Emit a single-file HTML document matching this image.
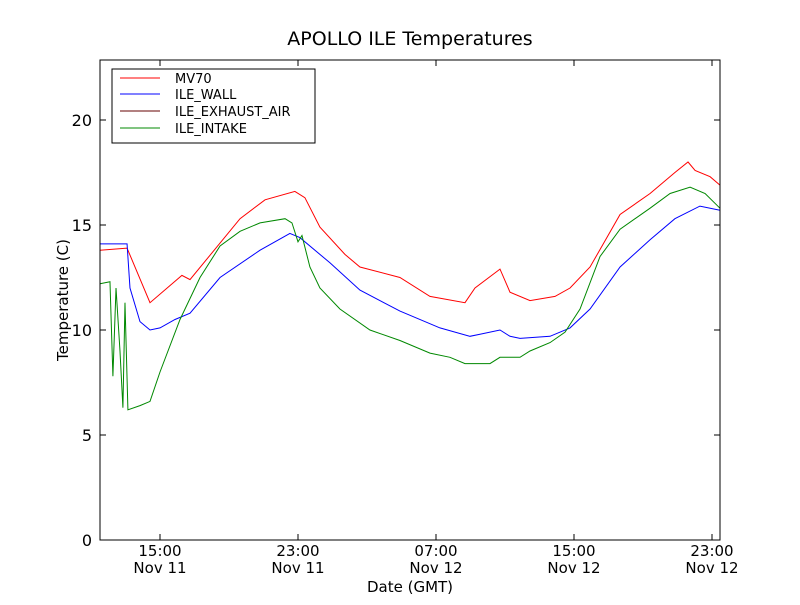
<!DOCTYPE html>
<html><head><meta charset="utf-8"><style>
body{margin:0;background:#fff;}
svg text{font-family:"DejaVu Sans","Liberation Sans",sans-serif;}
</style></head><body>
<svg id="chart" width="800" height="600">
<rect x="0" y="0" width="800" height="600" fill="#fff"/>
<text x="410" y="45" font-size="19" text-anchor="middle">APOLLO ILE Temperatures</text>
<g id="plot"></g>
<rect x="100" y="60" width="620" height="480" fill="none" stroke="#000" stroke-width="1"/>
<text x="410" y="592" font-size="15" text-anchor="middle">Date (GMT)</text>
<text transform="translate(68,300) rotate(-90)" font-size="15" text-anchor="middle">Temperature (C)</text>
<g>
<rect x="112" y="69" width="203" height="74" fill="#fff" stroke="#000"/>
<g><line x1="120" y1="78" x2="160" y2="78" stroke="#f00"/><text x="175" y="83" font-size="13">MV70</text></g>
<g><line x1="120" y1="94" x2="160" y2="94" stroke="#00f"/><text x="175" y="99" font-size="13">ILE_WALL</text></g>
<g><line x1="120" y1="111" x2="160" y2="111" stroke="#600"/><text x="175" y="116" font-size="13">ILE_EXHAUST_AIR</text></g>
<g><line x1="120" y1="128" x2="160" y2="128" stroke="#080"/><text x="175" y="133" font-size="13">ILE_INTAKE</text></g>
</g>
</svg>
<script>
const yTicks=[0,5,10,15,20];
const xTickHours=[15,23,31,39,47];
const xTickTimes=["15:00","23:00","07:00","15:00","23:00"];
const xTickDates=["Nov 11","Nov 11","Nov 12","Nov 12","Nov 12"];
const mvT=[11.52,13.09,14.42,16.27,16.74,19.64,21.09,22.82,23.40,24.27,25.72,26.59,28.91,30.65,32.68,33.26,34.71,35.29,36.45,37.90,38.77,39.93,41.67,43.41,44.85,45.61,46.02,46.89,47.46];
const mvV=[13.8,13.9,11.3,12.6,12.4,15.3,16.2,16.6,16.3,14.9,13.6,13.0,12.5,11.6,11.3,12.0,12.9,11.8,11.4,11.6,12.0,13.0,15.5,16.5,17.5,18.0,17.6,17.3,16.9];
const wallT=[11.52,13.09,13.26,13.84,14.42,15.0,15.87,16.74,18.48,20.80,22.53,23.11,24.85,26.59,28.91,31.23,32.97,33.55,34.71,35.29,35.87,37.61,38.77,39.93,41.67,43.41,44.85,46.30,47.46];
const wallV=[14.1,14.1,12.0,10.4,10.0,10.1,10.5,10.8,12.5,13.8,14.6,14.4,13.2,11.9,10.9,10.1,9.7,9.8,10.0,9.7,9.6,9.7,10.1,11.0,13.0,14.3,15.3,15.9,15.7];
const intakeT=[11.52,12.10,12.27,12.45,12.68,12.85,12.97,13.14,13.84,14.42,15.0,16.16,17.32,18.48,19.64,20.80,22.25,22.65,23.0,23.23,23.69,24.27,25.43,27.17,28.91,30.65,31.81,32.68,34.13,34.71,35.87,36.45,37.61,38.48,39.35,40.51,41.67,43.41,44.57,45.73,46.6,47.46];
const intakeV=[12.2,12.3,7.8,12.0,9.0,6.3,11.3,6.2,6.4,6.6,8.0,10.5,12.5,14.0,14.7,15.1,15.3,15.1,14.2,14.5,13.0,12.0,11.0,10.0,9.5,8.9,8.7,8.4,8.4,8.7,8.7,9.0,9.4,9.9,11.0,13.5,14.8,15.8,16.5,16.8,16.5,15.8];
const X=t=>160+(t-15)*17.25;
const Y=v=>540-v*21;
const ns="http://www.w3.org/2000/svg";
const g=document.getElementById('plot');
function mk(tag,a){const e=document.createElementNS(ns,tag);for(const k in a)e.setAttribute(k,a[k]);g.appendChild(e);return e;}
yTicks.forEach(v=>{
  const l1=mk('line',{x1:100,x2:106,y1:Y(v),y2:Y(v),stroke:'#000'});
  
  
  const l2=mk('line',{x1:714,x2:720,y1:Y(v),y2:Y(v),stroke:'#000'});
  
  
  const t=mk('text',{x:92,y:Y(v)+6,'font-size':16,'text-anchor':'end'});t.textContent=v;
  
  
});
xTickHours.forEach((h,i)=>{
  const x=X(h);
  const l1=mk('line',{x1:x,x2:x,y1:534,y2:540,stroke:'#000'});
  
  
  const l2=mk('line',{x1:x,x2:x,y1:60,y2:66,stroke:'#000'});
  
  
  const a=mk('text',{x:x,y:556,'font-size':15,'text-anchor':'middle'});a.textContent=xTickTimes[i];
  
  
  const b=mk('text',{x:x,y:573,'font-size':15,'text-anchor':'middle'});b.textContent=xTickDates[i];
  
  
});
function line(T,V,c,name){
  const p=mk('polyline',{points:T.map((t,i)=>X(t)+','+Y(V[i])).join(' '),fill:'none',stroke:c,'stroke-width':1});
  
  
}
line(mvT,mvV,'#f00','mv70-line');
line(wallT,wallV,'#00f','ile-wall-line');
line(intakeT,intakeV,'#080','ile-intake-line');
</script>
</body></html>
